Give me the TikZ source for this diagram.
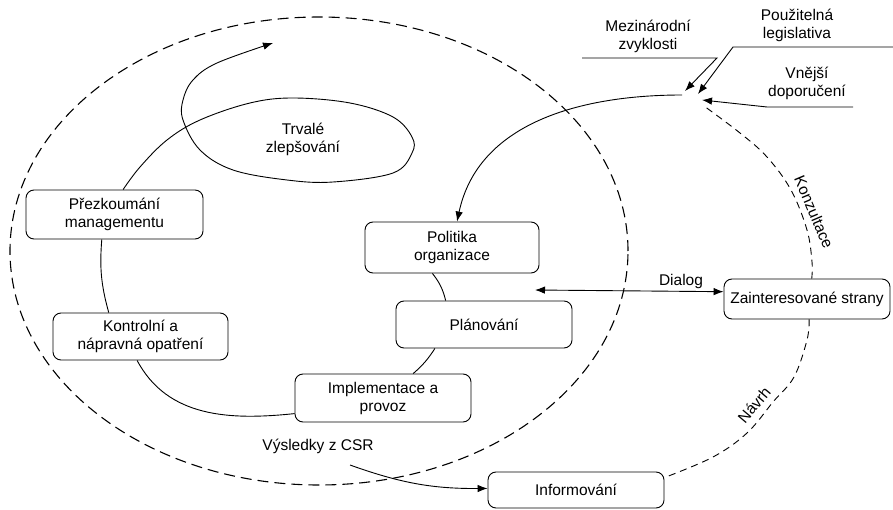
\documentclass[tikz,border=0pt]{standalone}
\usepackage{fontspec}
\setmainfont{Liberation Sans}
\usetikzlibrary{arrows.meta}
\begin{document}
\begin{tikzpicture}[x=1pt,y=1pt,
  every node/.style={font=\fontsize{15.5}{18}\selectfont, inner sep=0pt},
  box/.style={draw, rounded corners=8pt, line width=0.9pt, minimum width=176pt, minimum height=48pt, align=center},
  lbl/.style={align=center},
  conn/.style={line width=0.9pt},
  arr/.style={line width=0.9pt, -{Latex[length=10pt,width=7.5pt]}},
  darr/.style={line width=0.9pt, {Latex[length=10pt,width=7.5pt]}-{Latex[length=10pt,width=7.5pt]}},
  bigdash/.style={line width=1.1pt, dash pattern=on 11pt off 6pt},
  smalldash/.style={line width=0.9pt, dash pattern=on 7pt off 5pt}
]
\useasboundingbox (0,0) rectangle (893,-510);
\fill[white] (0,0) rectangle (893,-510);

% outer dashed ellipse
\draw[bigdash] (319,-251) ellipse [x radius=309, y radius=234];

% nodes
\node[box, minimum width=177pt, minimum height=49pt] (prez) at (114.5,-214.5) {Přezkoumání\\managementu};
\node[box, minimum width=175pt, minimum height=47pt] (kontr) at (140.5,-336.5) {Kontrolní a\\nápravná opatření};
\node[box, minimum width=174pt, minimum height=51pt] (polit) at (452,-247.5) {Politika\\organizace};
\node[box, minimum height=47pt] (plan) at (484,-324.5) {Plánování};
\node[box] (impl) at (383,-398) {Implementace a\\provoz};
\node[box, minimum width=166pt, minimum height=40pt] (zaint) at (807,-299) {Zainteresované strany};
\node[box, minimum height=36pt] (inform) at (576,-490) {Informování};

% labels
\node[lbl] (trv) at (303,-139) {Trvalé\\zlepšování};
\node[lbl] (mez) at (648,-36) {Mezinárodní\\zvyklosti};
\node[lbl] (leg) at (797,-25) {Použitelná\\legislativa};
\node[lbl] (vne) at (807,-83) {Vnější\\doporučení};
\node[lbl] (dial) at (681,-281) {Dialog};
\node[lbl] (vys) at (318,-446) {Výsledky z CSR};
\node[lbl, rotate=-67] (konz) at (814,-212) {Konzultace};
\node[lbl, rotate=50] (navrh) at (754,-405) {Návrh};

% coordinates
\coordinate (hub) at (682,-95);
\coordinate (mezA) at (582,-58);
\coordinate (mezB) at (717,-58);
\coordinate (mezT) at (685,-91);
\coordinate (legA) at (893,-47);
\coordinate (legB) at (733,-47);
\coordinate (legT) at (698,-94);
\coordinate (vneA) at (853,-107);
\coordinate (vneB) at (767,-107);
\coordinate (vneT) at (702,-100);
\coordinate (konzT) at (704,-106);
\coordinate (dialL) at (535,-290);
\coordinate (vysS) at (350,-465);

% cycle connectors
\draw[conn] (prez.243) to[bend right=10] (kontr.143);
\draw[conn] (kontr.262) to[out=-62,in=186] (impl.190);
\draw[conn] (impl.39) to[bend right=8] (plan.206);
\draw[conn] (plan.148) to[bend right=12] (polit.233);

% continuous improvement loop
\draw[arr] plot[smooth, tension=0.6] coordinates {(prez.71) (140,-167) (167,-140) (200,-120) (250,-103) (293,-98) (350,-103) (393,-117) (412,-137) (412,-153) (393,-173) (333,-182) (287,-180) (233,-170) (200,-150) (183,-120) (183,-100) (193,-80) (217,-63) (273,-43)};

% top right inputs
\draw[arr] (hub) to[out=180,in=78] (polit.79);
\draw[arr] (mezA) -- (mezB) -- (mezT);
\draw[arr] (legA) -- (legB) -- (legT);
\draw[arr] (vneA) -- (vneB) -- (vneT);

% stakeholders
\draw[smalldash] plot[smooth, tension=0.6] coordinates {(zaint.77) (812,-262) (807,-230) (791,-190) (767,-157) (740,-133) (konzT)};
\draw[smalldash] plot[smooth, tension=0.6] coordinates {(zaint.276) (807,-340) (794,-377) (773,-402) (747,-433) (713,-457) (inform.8)};
\draw[darr] (dialL) -- (zaint.175);
\draw[arr] (vysS) to[bend right=10] (inform.179);
\end{tikzpicture}
\end{document}
